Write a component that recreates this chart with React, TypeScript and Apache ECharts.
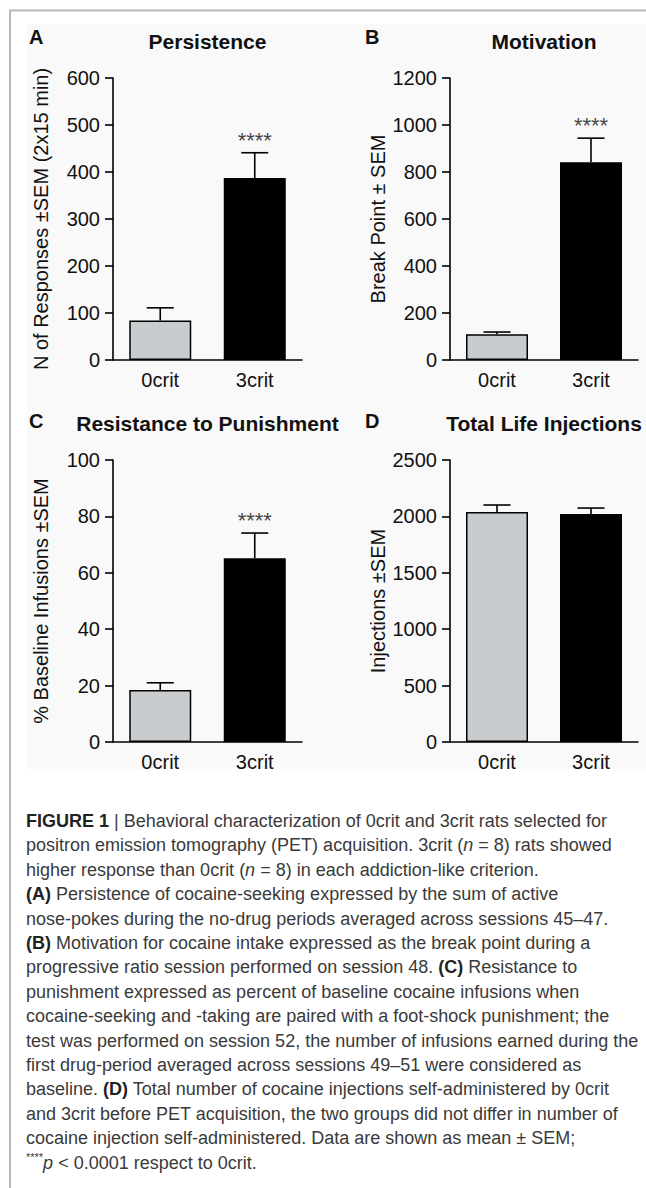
import React, { useEffect, useRef } from "react";
import * as echarts from "echarts";

// ---- data ----
const categories = ["0crit", "3crit"];
const barColors = ["#c8cccf", "#000000"];

const persistenceMean = [84, 387];
const persistenceSem = [27, 54];
const persistenceSig = ["", "****"];

const motivationMean = [110, 842];
const motivationSem = [9, 102];
const motivationSig = ["", "****"];

const punishmentMean = [18.4, 65.2];
const punishmentSem = [2.6, 8.9];
const punishmentSig = ["", "****"];

const injectionsMean = [2039, 2021];
const injectionsSem = [62, 53];
const injectionsSig = ["", ""];

const panelLetters = ["A", "B", "C", "D"];
const panelTitles = ["Persistence", "Motivation", "Resistance to Punishment", "Total Life Injections"];
const yNames = [
  "N of Responses \u00b1SEM (2x15 min)",
  "Break Point \u00b1 SEM",
  "% Baseline Infusions \u00b1SEM",
  "Injections \u00b1SEM",
];
const yMax = [600, 1200, 100, 2500];
const yInterval = [100, 200, 20, 500];

const captionLines = [
  "{b|FIGURE 1} | Behavioral characterization of 0crit and 3crit rats selected for",
  "positron emission tomography (PET) acquisition. 3crit ({i|n} = 8) rats showed",
  "higher response than 0crit ({i|n} = 8) in each addiction-like criterion.",
  "{b|(A)} Persistence of cocaine-seeking expressed by the sum of active",
  "nose-pokes during the no-drug periods averaged across sessions 45\u201347.",
  "{b|(B)} Motivation for cocaine intake expressed as the break point during a",
  "progressive ratio session performed on session 48. {b|(C)} Resistance to",
  "punishment expressed as percent of baseline cocaine infusions when",
  "cocaine-seeking and -taking are paired with a foot-shock punishment; the",
  "test was performed on session 52, the number of infusions earned during the",
  "first drug-period averaged across sessions 49\u201351 were considered as",
  "baseline. {b|(D)} Total number of cocaine injections self-administered by 0crit",
  "and 3crit before PET acquisition, the two groups did not differ in number of",
  "cocaine injection self-administered. Data are shown as mean \u00b1 SEM;",
  "{sup|****}{i|p} < 0.0001 respect to 0crit.",
];

const FONT = "'Liberation Sans', Arial, Helvetica, sans-serif";

const panels = [
  { mean: persistenceMean, sem: persistenceSem, sig: persistenceSig },
  { mean: motivationMean, sem: motivationSem, sig: motivationSig },
  { mean: punishmentMean, sem: punishmentSem, sig: punishmentSig },
  { mean: injectionsMean, sem: injectionsSem, sig: injectionsSig },
];

const grids = [
  { left: 113, top: 78, width: 189, height: 282 },
  { left: 450, top: 78, width: 188, height: 282 },
  { left: 113, top: 460, width: 189, height: 282 },
  { left: 450, top: 460, width: 188, height: 282 },
];

export default function App() {
  const ref = useRef<HTMLDivElement>(null);
  useEffect(() => {
    if (!ref.current) return;
    const chart = echarts.init(ref.current, undefined, { renderer: "svg" });

    const xAxis = grids.map((_, gi) => ({
      type: "category",
      gridIndex: gi,
      data: categories,
      axisTick: { show: false },
      axisLine: { lineStyle: { color: "#000", width: 1.6 } },
      axisLabel: { fontSize: 20, color: "#111", margin: 10, fontFamily: FONT },
    }));
    const yAxis = grids.map((_, gi) => ({
      type: "value",
      gridIndex: gi,
      min: 0,
      max: yMax[gi],
      interval: yInterval[gi],
      splitLine: { show: false },
      axisLine: { show: true, lineStyle: { color: "#000", width: 1.6 } },
      axisTick: { show: true, length: 8, lineStyle: { color: "#000", width: 1.6 } },
      axisLabel: {
        fontSize: 20,
        color: "#111",
        margin: 13,
        fontFamily: FONT,
        formatter: (v: number) => String(v),
      },
      name: yNames[gi],
      nameLocation: "middle",
      nameGap: 62,
      nameTextStyle: { fontSize: 20, color: "#111", fontFamily: FONT },
    }));

    const series: any[] = [];
    panels.forEach((p, gi) => {
      series.push({
        type: "bar",
        xAxisIndex: gi,
        yAxisIndex: gi,
        barWidth: 62,
        data: p.mean.map((v, i) => ({
          value: v,
          itemStyle: { color: barColors[i], borderColor: "#000", borderWidth: 1.5 },
        })),
        z: 3,
      });
      series.push({
        type: "custom",
        xAxisIndex: gi,
        yAxisIndex: gi,
        z: 2,
        data: p.mean.map((v, i) => [i, v, p.sem[i]]),
        encode: { x: 0, y: 1 },
        renderItem: (params: any, api: any) => {
          const x = api.value(0);
          const m = api.value(1);
          const s = api.value(2);
          const base = api.coord([x, m]);
          const top = api.coord([x, m + s]);
          const hw = 13.5;
          return {
            type: "group",
            children: [
              { type: "line", shape: { x1: top[0], y1: base[1], x2: top[0], y2: top[1] }, style: { stroke: "#000", lineWidth: 1.6 } },
              { type: "line", shape: { x1: top[0] - hw, y1: top[1], x2: top[0] + hw, y2: top[1] }, style: { stroke: "#000", lineWidth: 1.6 } },
            ],
          };
        },
      });
      series.push({
        type: "scatter",
        xAxisIndex: gi,
        yAxisIndex: gi,
        symbolSize: 1,
        itemStyle: { color: "rgba(0,0,0,0)" },
        z: 4,
        data: p.mean.map((v, i) => [i, v + p.sem[i]]),
        label: {
          show: true,
          position: "top",
          distance: 1,
          formatter: (q: any) => p.sig[q.dataIndex],
          fontSize: 22,
          color: "#111",
          fontFamily: FONT,
        },
      });
    });

    const graphic: any[] = [
      { type: "rect", shape: { x: 27, y: 24, width: 619, height: 745 }, style: { fill: "#f9f9f9" }, z: -10 },
      { type: "line", shape: { x1: 9, y1: 10.5, x2: 646, y2: 10.5 }, style: { stroke: "#b8b8b8", lineWidth: 2 } },
      { type: "line", shape: { x1: 10, y1: 10, x2: 10, y2: 1188 }, style: { stroke: "#b8b8b8", lineWidth: 2 } },
    ];
    const letterPos = [
      [29, 37],
      [365, 37],
      [29, 421],
      [365, 421],
    ];
    panelLetters.forEach((l, i) => {
      graphic.push({
        type: "text",
        x: letterPos[i][0],
        y: letterPos[i][1],
        style: { text: l, fontSize: 20, fontWeight: "bold", fontFamily: FONT, fill: "#111", align: "left", verticalAlign: "middle" },
      });
    });
    panelTitles.forEach((t, i) => {
      const g = grids[i];
      graphic.push({
        type: "text",
        x: g.left + g.width / 2,
        y: i < 2 ? 41 : 423,
        style: { text: t, fontSize: 21, fontWeight: "bold", fontFamily: FONT, fill: "#111", align: "center", verticalAlign: "middle" },
      });
    });
    captionLines.forEach((line, i) => {
      graphic.push({
        type: "text",
        x: 26,
        y: 821 + i * 24.4,
        style: {
          text: line,
          fontSize: 18,
          fontFamily: FONT,
          fill: "#3a3a3a",
          align: "left",
          verticalAlign: "middle",
          lineHeight: 22,
          rich: {
            b: { fontSize: 18, fontWeight: "bold", fontFamily: FONT, fill: "#222", lineHeight: 22 },
            i: { fontSize: 18, fontStyle: "italic", fontFamily: FONT, fill: "#3a3a3a", lineHeight: 22 },
            sup: { fontSize: 11, fontFamily: FONT, fill: "#3a3a3a", verticalAlign: "top", lineHeight: 22 },
          },
        },
      });
    });

    chart.setOption({
      animation: false,
      backgroundColor: "#ffffff",
      grid: grids,
      xAxis,
      yAxis,
      series,
      graphic,
    });
    return () => chart.dispose();
  }, []);
  return (
    <div
      ref={ref}
      style={{ position: "absolute", left: 0, top: 0, width: 646, height: 1188 }}
    />
  );
}
